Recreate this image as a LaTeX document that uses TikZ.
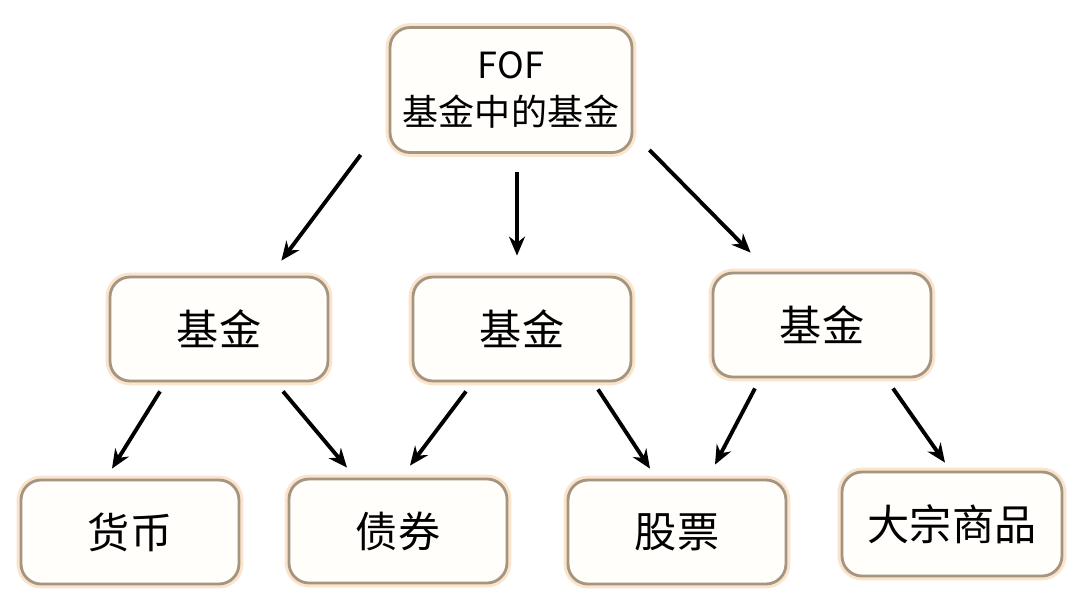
\documentclass[tikz,border=0pt]{standalone}
\usepackage{fontspec}
\setmainfont{Noto Sans CJK SC}
\usetikzlibrary{arrows.meta}
\definecolor{boxline}{RGB}{165,148,126}
\definecolor{boxglow}{RGB}{250,228,205}
\definecolor{boxfill}{RGB}{255,254,251}

\begin{document}
\begin{tikzpicture}[x=0.02cm, y=-0.02cm,
  box/.style={rectangle, rounded corners=0.4cm, draw=boxline, line width=1.6pt,
    fill=boxfill, minimum width=4.36cm, minimum height=2.08cm, inner sep=2pt,
    font=\fontsize{24}{28}\selectfont,
    preaction={draw=boxglow, line width=5pt}},
  arr/.style={-{Stealth[length=0.38cm, width=0.32cm]}, line width=2.2pt}]
\useasboundingbox (0,0) rectangle (1080,609);
%
% --- Top node ---
\node[box, minimum width=4.84cm, minimum height=2.5cm, align=center,
  font=\fontsize{20.5}{27}\selectfont] (fof) at (511,90) {FOF\\基金中的基金};
% --- Middle row ---
\node[box] (b1) at (219,329) {基金};
\node[box] (b2) at (522,329) {基金};
\node[box] (b3) at (822,325) {基金};
% --- Bottom row ---
\node[box] (c1) at (130,532) {货币};
\node[box] (c2) at (398,531) {债券};
\node[box] (c3) at (677,532) {股票};
\node[box, minimum width=4.4cm] (c4) at (952,524) {大宗商品};
%
% --- Edges ---
\draw[arr] ([shift={(-28,1)}]fof.south west) -- ([shift={(-48,-15)}]b1.north east);
\draw[arr] ([shift={(6,18)}]fof.south) -- ([shift={(-5,-20)}]b2.north);
\draw[arr] ([shift={(16,-4)}]fof.south east) -- ([shift={(39,-19)}]b3.north west);
\draw[arr] ([shift={(-59,9)}]b1.south) -- ([shift={(-18,-10)}]c1.north);
\draw[arr] ([shift={(64,9)}]b1.south) -- ([shift={(-51,-10)}]c2.north);
\draw[arr] ([shift={(-56,9)}]b2.south) -- ([shift={(12,-12)}]c2.north);
\draw[arr] ([shift={(76,7)}]b2.south) -- ([shift={(-27,-10)}]c3.north);
\draw[arr] ([shift={(-67,10)}]b3.south) -- ([shift={(38,-14)}]c3.north);
\draw[arr] ([shift={(71,10)}]b3.south) -- ([shift={(-7,-8)}]c4.north);
%
\end{tikzpicture}
\end{document}
